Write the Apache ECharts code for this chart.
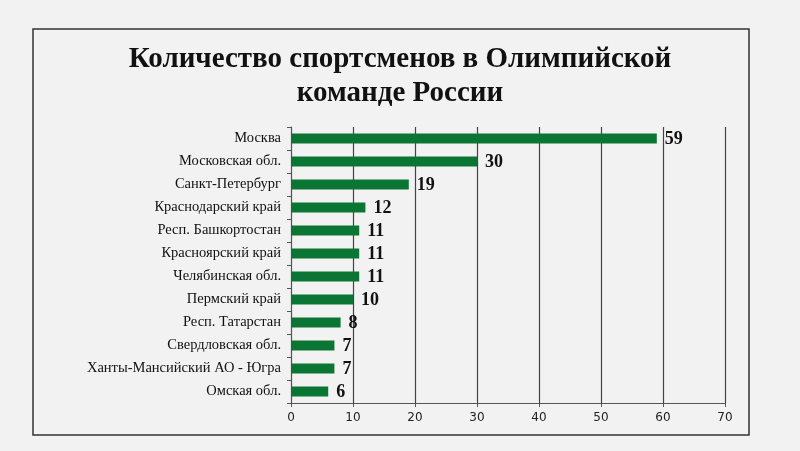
<!DOCTYPE html>
<html><head><meta charset="utf-8">
<script src="https://cdn.jsdelivr.net/npm/echarts@6/dist/echarts.min.js"></script>
<style>html,body{margin:0;padding:0;background:#f2f2f2}#c{width:800px;height:451px}</style>
</head><body><div id="c"></div>
<script>
var categories = ['Москва','Московская обл.','Санкт-Петербург','Краснодарский край','Респ. Башкортостан','Красноярский край','Челябинская обл.','Пермский край','Респ. Татарстан','Свердловская обл.','Ханты-Мансийский АО - Югра','Омская обл.'];
var values = [59,30,19,12,11,11,11,10,8,7,7,6];
var titleText = 'Количество спортсменов в Олимпийской\nкоманде России';

var chart = echarts.init(document.getElementById('c'));
chart.setOption({
  backgroundColor: '#f2f2f2',
  animation: false,
  title: {
    text: titleText, left: 'center', top: 38,
    textStyle: {fontFamily: 'Liberation Serif', fontWeight: 'bold', fontSize: 29, color: '#111', lineHeight: 34}
  },
  graphic: [{type: 'rect', shape: {x: 33, y: 29, width: 716, height: 406}, style: {fill: 'none', stroke: '#333', lineWidth: 1.5}, silent: true}],
  grid: {left: 291, right: 75, top: 127, bottom: 48},
  xAxis: {
    type: 'value', min: 0, max: 70, interval: 10,
    axisLine: {show: true, lineStyle: {color: '#555'}},
    axisTick: {show: true, length: 4, lineStyle: {color: '#555'}},
    axisLabel: {fontFamily: 'DejaVu Sans', fontSize: 12, color: '#222', margin: 9},
    splitLine: {show: true, lineStyle: {color: '#444', width: 1.2}}
  },
  yAxis: {
    type: 'category', data: categories, inverse: true,
    axisLine: {show: true, lineStyle: {color: '#555'}},
    axisTick: {show: true, length: 4, lineStyle: {color: '#555'}},
    axisLabel: {fontFamily: 'Liberation Serif', fontSize: 14.5, color: '#111', margin: 10}
  },
  series: [{
    type: 'bar', data: values, barWidth: 10,
    itemStyle: {color: '#0b7634'},
    label: {show: true, position: 'right', distance: 8, offset: [0, 1], fontFamily: 'Liberation Serif', fontWeight: 'bold', fontSize: 18, color: '#111'}
  }]
});
</script></body></html>
